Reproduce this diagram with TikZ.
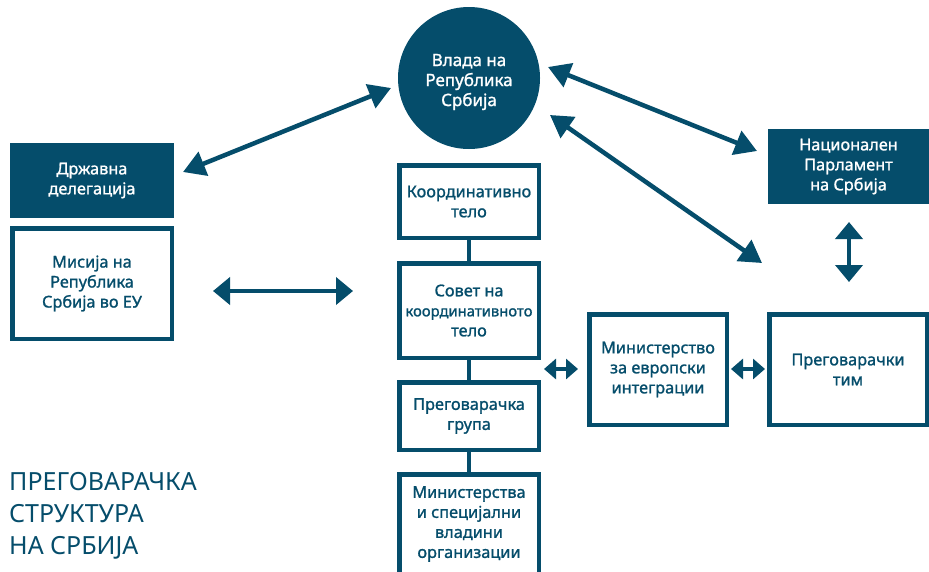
\documentclass[tikz,border=0pt]{standalone}
\usepackage{fontspec}
\setmainfont{Noto Sans}
\newfontfamily\boxfont{Noto Sans}[FakeBold=1.2]
\usetikzlibrary{arrows.meta}
\definecolor{teal}{RGB}{5,77,107}
\tikzset{
  x=1pt, y=-1pt,
  txt/.style={font=\boxfont\fontsize{16.3}{20}\selectfont, align=center, inner sep=0pt, outer sep=0pt},
  filledbox/.style={txt, fill=teal, text=white},
  openbox/.style={txt, draw=teal, line width=4.5pt, text=teal, fill=white},
  link/.style={draw=teal, line width=4pt},
  arr/.style={draw=teal, line width=#1},
  bigtip/.style={{Triangle[length=17pt,width=27pt]}-{Triangle[length=17pt,width=27pt]}},
  diagtip/.style={{Triangle[length=22pt,width=25pt]}-{Triangle[length=22pt,width=25pt]}},
  smalltip/.style={{Triangle[length=12pt,width=20pt]}-{Triangle[length=12pt,width=20pt]}},
}
\begin{document}
\begin{tikzpicture}
\useasboundingbox (0,0) rectangle (929,571);
\fill[white] (0,0) rectangle (929,571);
% government circle
\node[circle, fill=teal, minimum size=142pt, inner sep=0pt, outer sep=0pt] (vlada) at (469,78) {};
\node[txt, text=white, font=\boxfont\fontsize{17}{20}\selectfont] (vladatext) at (469,82) {Влада на\\Република\\Србија};
% left boxes
\node[filledbox, minimum width=164pt, minimum height=75pt] (deleg) at (92,180.5) {Државна\\делегација};
\node[openbox, minimum width=159.5pt, minimum height=110.5pt] (misija) at (92,283.5) {Мисија на\\Република\\Србија во ЕУ};
% middle column
\node[openbox, minimum width=139.5pt, minimum height=72.5pt] (koord) at (469,201.5) {Координативно\\тело};
\node[openbox, minimum width=139.5pt, minimum height=94.5pt] (sovet) at (469,310.5) {Совет на\\{\fontsize{14.8}{20}\selectfont координативното}\\тело};
\node[openbox, minimum width=139.5pt, minimum height=67.5pt] (grupa) at (469,416) {Преговарачка\\група};
\node[openbox, minimum width=139.5pt, minimum height=99.5pt] (minst) at (469,524) {Министерства\\и специјални\\владини\\организации};
\draw[link] (koord.south) -- (sovet.north);
\draw[link] (sovet.south) -- (grupa.north);
\draw[link] (grupa.south) -- (minst.north);
% right boxes
\node[openbox, minimum width=137.5pt, minimum height=110.5pt] (mei) at (658,369.5) {Министерство\\за европски\\интеграции};
\node[openbox, minimum width=157.5pt, minimum height=110.5pt] (tim) at (848,369.5) {Преговарачки\\тим};
\node[filledbox, minimum width=161pt, minimum height=75pt] (parl) at (848.5,166.5) {Национален\\Парламент\\на Србија};
% title
\node[anchor=north west, align=left, inner sep=0pt, text=teal, font=\fontsize{25}{32}\selectfont] (title) at (9,472) {ПРЕГОВАРАЧКА\\СТРУКТУРА\\НА СРБИЈА};
% arrow end points
\coordinate (d1) at (183,172);
\coordinate (v1) at (391,88);
\coordinate (m1) at (213,291);
\coordinate (s1) at (353,291);
\coordinate (v2) at (548,67);
\coordinate (p1) at (757,151);
\coordinate (v3) at (550,115);
\coordinate (t1) at (762,263);
\coordinate (p2) at (849,222);
\coordinate (t2) at (849,282);
\coordinate (s2) at (544,369);
\coordinate (e1) at (578,369);
\coordinate (e2) at (731,369);
\coordinate (t3) at (765,369);
% arrows
\draw[arr=4.5pt, diagtip] (d1) -- (v1);
\draw[arr=4pt, bigtip] (m1) -- (s1);
\draw[arr=4.5pt, diagtip] (v2) -- (p1);
\draw[arr=4.5pt, diagtip] (v3) -- (t1);
\draw[arr=4pt, bigtip] (p2) -- (t2);
\draw[arr=4pt, smalltip] (s2) -- (e1);
\draw[arr=4pt, smalltip] (e2) -- (t3);
\end{tikzpicture}
\end{document}
